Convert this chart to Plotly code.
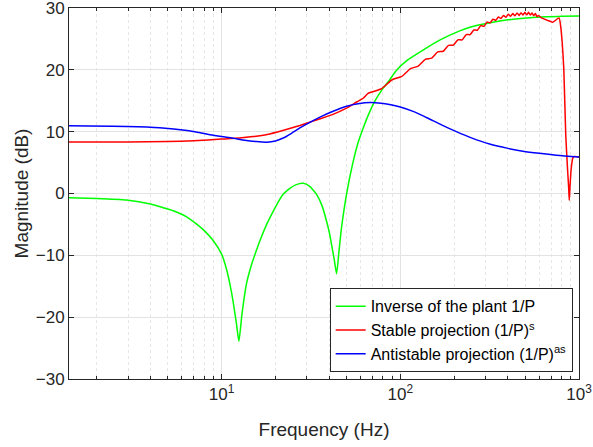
import plotly.graph_objects as go

# ---- data ----
freq_plant = [1.4, 2.0, 2.94, 4.0, 4.71, 5.36, 6.3, 7.25, 8.0, 8.97, 10.0, 10.6, 11.1, 11.6, 12.1, 12.5,
              13.0, 13.8, 14.6, 15.4, 16.5, 17.9, 19.5, 21.2, 22.1, 24.0, 26.0, 28.6, 31.0, 34.0, 36.5,
              38.6, 40.2, 41.2, 42.7, 44.0, 45.5, 46.9, 50.0, 54.5, 58.0, 62.0, 66.0, 71.9, 80.0, 87.3,
              95.0, 110.0, 134.0, 166.0, 215.0, 245.0, 330.0, 400.0, 508.0, 650.0, 800.0, 1000.0]
mag_plant = [-0.68, -0.8, -1.05, -1.7, -2.3, -2.8, -3.7, -4.95, -6.0, -7.6, -9.8, -12.0, -14.5, -17.5, -21.0, -23.9,
             -19.5, -14.5, -11.8, -9.8, -7.4, -4.95, -2.8, -0.9, -0.13, 0.8, 1.4, 1.64, 1.2, -0.13, -2.0,
             -4.4, -6.5, -8.2, -10.7, -13.0, -9.0, -5.5, -0.13, 5.2, 8.2, 10.6, 12.6, 14.9, 17.0, 18.4,
             19.9, 21.6, 23.2, 24.8, 26.3, 26.9, 27.7, 28.1, 28.4, 28.6, 28.65, 28.7]

freq_stable = [1.4, 3.0, 5.0, 7.0, 10.0, 12.6, 15.0, 18.0, 22.0, 27.4, 32.5, 42.0, 50.0, 57.0, 62.0,
               66, 78, 90, 102, 114, 126, 138, 150, 162, 174, 186, 198, 210, 222, 234, 246, 258, 270,
               282, 294, 306, 318, 330, 342, 354, 366, 378, 390, 402, 414, 426, 438, 450, 462, 474,
               486, 498, 510, 522, 534, 546, 558, 570, 582, 594, 616, 667, 713, 773, 790, 805, 822,
               843, 862, 875, 882, 890, 905, 924, 945, 1000]
mag_stable = [8.33, 8.33, 8.4, 8.55, 8.8, 8.97, 9.2, 9.55, 10.2, 11.0, 11.7, 12.8, 13.8, 14.8, 15.4,
              16.2, 16.9, 18.4, 18.95, 20.2, 20.6, 21.7, 21.9, 22.9, 23.0, 23.95, 24.0, 24.85, 24.85,
              25.7, 25.7, 26.45, 26.4, 27.15, 27.05, 27.75, 27.6, 28.2, 28.0, 28.55, 28.3, 28.8, 28.5,
              29.0, 28.65, 29.1, 28.75, 29.2, 28.8, 29.25, 28.85, 29.3, 28.9, 29.3, 28.85, 29.2, 28.75,
              29.1, 28.6, 28.8, 28.4, 28.0, 27.7, 28.4, 27.0, 24.5, 20.2, 9.5, 4.1, 1.0, -1.1, 1.0, 4.1,
              5.75, 6.0, 5.9]

freq_anti = [1.4, 2.94, 4.5, 6.4, 7.5, 8.6, 10.0, 11.6, 13.5, 15.5, 17.9, 20.0, 22.1, 24.5, 27.4, 32.5,
             37.0, 42.1, 50.0, 58.0, 68.0, 78.0, 87.0, 100.0, 120.0, 140.0, 170.0, 206.0, 250.0, 316.0,
             400.0, 485.0, 600.0, 746.0, 1000.0]
mag_anti = [10.96, 10.85, 10.65, 10.2, 9.85, 9.5, 9.2, 8.95, 8.6, 8.4, 8.3, 8.5, 8.97, 9.7, 10.6, 11.8,
            12.6, 13.3, 14.1, 14.5, 14.7, 14.6, 14.4, 14.0, 13.2, 12.3, 11.1, 10.0, 9.0, 8.0,
            7.3, 6.85, 6.5, 6.2, 5.9]

series_names = ["Inverse of the plant 1/P", "Stable projection (1/P)<sup>s</sup>",
                "Antistable projection (1/P)<sup>as</sup>"]
x_tickvals = [10, 100, 1000]
x_ticktext = ["10<sup>1</sup>", "10<sup>2</sup>", "10<sup>3</sup>"]
y_tickvals = [-30, -20, -10, 0, 10, 20, 30]
minor_vals = [m * d for d in (1, 10, 100) for m in range(2, 10)]

FONT = "Liberation Sans, Arial, Helvetica, sans-serif"

fig = go.Figure()
fig.add_trace(go.Scatter(x=freq_plant, y=mag_plant, mode="lines", name=series_names[0],
                         line=dict(color="#00FF00", width=1.5, shape="spline", smoothing=0.5)))
fig.add_trace(go.Scatter(x=freq_stable, y=mag_stable, mode="lines", name=series_names[1],
                         line=dict(color="#FF0000", width=1.5, shape="spline", smoothing=0.5)))
fig.add_trace(go.Scatter(x=freq_anti, y=mag_anti, mode="lines", name=series_names[2],
                         line=dict(color="#0000FF", width=1.5, shape="spline", smoothing=0.8)))

axis_common = dict(showline=True, linecolor="#262626", linewidth=1, mirror="allticks",
                   ticks="inside", ticklen=5, tickcolor="#262626", zeroline=False,
                   gridcolor="#E3E3E3", gridwidth=1, automargin=False,
                   ticklabeloverflow="allow",
                   tickfont=dict(family=FONT, size=17, color="#262626"))

fig.update_xaxes(type="log", range=[0.146, 3.0], tickmode="array", tickvals=x_tickvals,
                 ticktext=x_ticktext,
                 minor=dict(tickmode="array", tickvals=minor_vals, ticks="inside", ticklen=3,
                            tickcolor="#262626", showgrid=True, gridcolor="#E6E6E6", griddash="dot"),
                 title=dict(text="Frequency (Hz)", font=dict(family=FONT, size=19, color="#262626"),
                            standoff=19),
                 **axis_common)
fig.update_yaxes(range=[-30, 30], tickmode="array", tickvals=y_tickvals,
                 title=dict(text="Magnitude (dB)", font=dict(family=FONT, size=19, color="#262626"),
                            standoff=2),
                 **axis_common)

fig.update_layout(
    width=593, height=447,
    margin=dict(l=69, r=14, t=8, b=68, autoexpand=False),
    plot_bgcolor="white", paper_bgcolor="white",
    font=dict(family=FONT, color="#262626"),
    legend=dict(x=0.9876, y=0.018, xanchor="right", yanchor="bottom",
                bgcolor="white", bordercolor="#262626", borderwidth=1,
                font=dict(family=FONT, size=16, color="#000000"),
                tracegroupgap=0, itemwidth=30),
    showlegend=True,
)

fig.write_html("out.html", config={"displayModeBar": False},
               post_script="document.body.style.margin='0';document.body.style.padding='0';")
